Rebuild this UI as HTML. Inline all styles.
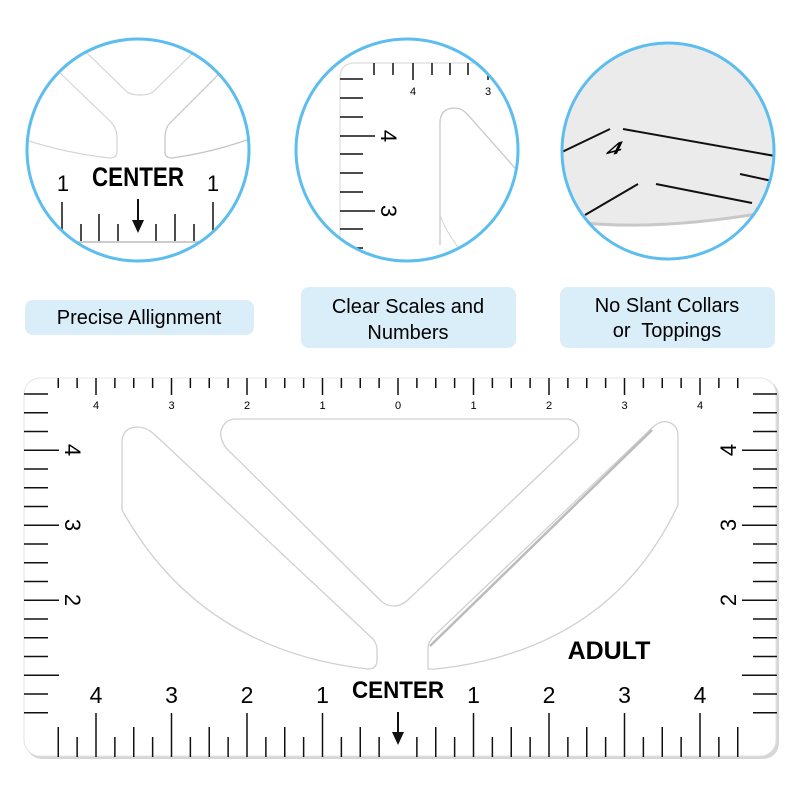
<!DOCTYPE html>
<html><head><meta charset="utf-8">
<style>
html,body{margin:0;padding:0;background:#fff;}
svg{display:block}
text{font-family:"Liberation Sans",sans-serif;}
</style></head>
<body>
<svg id="s" width="800" height="800" viewBox="0 0 800 800" xmlns="http://www.w3.org/2000/svg">
<defs>
<clipPath id="c1"><ellipse cx="138" cy="150" rx="111" ry="111"/></clipPath>
<clipPath id="c2"><ellipse cx="407" cy="150" rx="111" ry="111"/></clipPath>
<clipPath id="c3"><ellipse cx="668" cy="151" rx="106" ry="108"/></clipPath>
</defs>

<!-- Circle 1 -->
<g clip-path="url(#c1)">
<rect x="0" y="0" width="300" height="300" fill="#fff"/>
<g fill="none" stroke="#d4d4d4" stroke-width="1.2">
<path d="M60 73 L110 121 Q117 128 117 138 L117 152 Q117 158 109 158 Q60 152 20 138"/>
<path d="M87 53 L126 91 Q130 95 140 95 Q150 95 154 91 L193 53"/>
<path d="M218 75 L170 123 Q165 128 165 138 L165 152 Q165 158 172 158 Q215 152 255 137" stroke="#c4c4c4"/>
</g>
<text x="138" y="186" font-size="27" font-weight="bold" text-anchor="middle" textLength="92" lengthAdjust="spacingAndGlyphs">CENTER</text>
<text x="63" y="191" font-size="22" text-anchor="middle">1</text>
<text x="213" y="191" font-size="22" text-anchor="middle">1</text>
<g stroke="#111" stroke-width="1.5">
<line x1="62" y1="202" x2="62" y2="241"/><line x1="213" y1="202" x2="213" y2="241"/>
<line x1="81" y1="224" x2="81" y2="241"/><line x1="99" y1="214" x2="99" y2="241"/>
<line x1="118" y1="224" x2="118" y2="241"/><line x1="156" y1="224" x2="156" y2="241"/>
<line x1="175" y1="214" x2="175" y2="241"/><line x1="194" y1="224" x2="194" y2="241"/>
<line x1="138" y1="199" x2="138" y2="222" stroke-width="2"/>
</g>
<path d="M132 220 L144 220 L138 233 Z" fill="#111"/>
<line x1="20" y1="242" x2="260" y2="242" stroke="#ccc" stroke-width="2"/>
</g>
<ellipse cx="138" cy="150" rx="111" ry="111" fill="none" stroke="#5cbdee" stroke-width="3"/>

<!-- Circle 2 -->
<g clip-path="url(#c2)">
<rect x="280" y="0" width="260" height="300" fill="#fff"/>
<path d="M340 270 L340 78 Q340 63 355 63 L530 63" fill="none" stroke="#ddd" stroke-width="1.2"/>
<g stroke="#111" stroke-width="1.5">
<line x1="374" y1="63" x2="374" y2="75"/><line x1="393" y1="63" x2="393" y2="75"/>
<line x1="432" y1="63" x2="432" y2="75"/><line x1="450" y1="63" x2="450" y2="75"/>
<line x1="468" y1="63" x2="468" y2="75"/>
<line x1="413" y1="63" x2="413" y2="80"/><line x1="488" y1="63" x2="488" y2="80"/>
<line x1="340" y1="79" x2="363" y2="79"/><line x1="340" y1="98" x2="363" y2="98"/>
<line x1="340" y1="117" x2="363" y2="117"/><line x1="340" y1="154" x2="363" y2="154"/>
<line x1="340" y1="173" x2="363" y2="173"/><line x1="340" y1="192" x2="363" y2="192"/>
<line x1="340" y1="229" x2="363" y2="229"/><line x1="340" y1="248" x2="363" y2="248"/>
<line x1="340" y1="136" x2="375" y2="136"/><line x1="340" y1="211" x2="375" y2="211"/>
</g>
<text x="413" y="95" font-size="11" text-anchor="middle">4</text>
<text x="488" y="95" font-size="11" text-anchor="middle">3</text>
<text font-size="22" transform="translate(381,136) rotate(90)" text-anchor="middle">4</text>
<text font-size="22" transform="translate(381,211) rotate(90)" text-anchor="middle">3</text>
<path d="M440 245 L440 123 Q440 108 455 108 Q462 108 468 115 L530 185" fill="none" stroke="#c8c8c8" stroke-width="1.3"/>
<path d="M440 215 Q445 230 460 250" fill="none" stroke="#d4d4d4" stroke-width="1"/>
</g>
<ellipse cx="407" cy="150" rx="111" ry="111" fill="none" stroke="#5cbdee" stroke-width="3"/>

<!-- Circle 3 -->
<g clip-path="url(#c3)">
<rect x="550" y="30" width="240" height="250" fill="#ebebeb"/>
<path d="M570 222 Q660 232 780 210 L780 280 L560 280 Z" fill="#fff"/>
<path d="M575 222 Q660 232 780 210" fill="none" stroke="#c8c8c8" stroke-width="3"/>
<g stroke="#111" stroke-width="2">
<line x1="562" y1="152" x2="610" y2="129"/>
<line x1="623" y1="129" x2="775" y2="156"/>
<line x1="585" y1="215" x2="638" y2="184"/>
<line x1="656" y1="184" x2="752" y2="203"/>
<line x1="740" y1="174" x2="772" y2="181"/>
</g>
<text font-size="22" font-weight="bold" transform="translate(612,155) rotate(-15) skewX(-40) scale(1.3,0.7)" text-anchor="middle">4</text>
</g>
<ellipse cx="668" cy="151" rx="106" ry="108" fill="none" stroke="#5cbdee" stroke-width="3"/>

<!-- Labels -->
<rect x="25" y="300" width="229" height="35" rx="8" fill="#daeefa"/>
<text x="139" y="324" font-size="20" text-anchor="middle">Precise Allignment</text>
<rect x="301" y="287" width="215" height="61" rx="8" fill="#daeefa"/>
<text x="408" y="313" font-size="20" text-anchor="middle">Clear Scales and</text>
<text x="408" y="339" font-size="20" text-anchor="middle">Numbers</text>
<rect x="560" y="287" width="215" height="61" rx="8" fill="#daeefa"/>
<text x="667" y="312" font-size="20" text-anchor="middle">No Slant Collars</text>
<text x="667" y="337" font-size="20" text-anchor="middle">or&#160; Toppings</text>

<!-- Ruler -->
<rect x="26" y="380" width="753" height="379" rx="16" fill="#bbb" opacity="0.6"/>
<rect x="24" y="378" width="752" height="378" rx="16" fill="#fff" stroke="#e4e4e4" stroke-width="1"/>
<g fill="none" stroke="#d0d0d0" stroke-width="1.3">
<path d="M122 510 L122 443 Q122 427 138 427 Q146 427 154 434 L372 638 Q377 643 377 650 L377 660 Q377 669 368 669 Q200 650 122 510 Z"/>
<path d="M236 419 L568 419 Q582 422 578 438 L410 598 Q402 606 394 606 Q386 606 380 600 L226 448 Q218 436 222 428 Q226 419 236 419 Z"/>
<path d="M428 669 L428 648 Q428 642 434 636 L652 428 Q660 420 668 422 Q678 425 678 436 L678 505 Q610 650 436 669 Z"/>
</g>
<path d="M430 646 L652 430" stroke="#bbb" stroke-width="2.5" fill="none"/>
<g id="rt" stroke="#111" stroke-width="1.5"></g>
<g id="rl"></g>
<text x="609" y="659" font-size="25" font-weight="bold" text-anchor="middle">ADULT</text>
<text x="398" y="698" font-size="24" font-weight="bold" text-anchor="middle" textLength="92" lengthAdjust="spacingAndGlyphs">CENTER</text>
<line x1="398" y1="712" x2="398" y2="735" stroke="#111" stroke-width="2"/>
<path d="M392 732 L404 732 L398 745 Z" fill="#111"/>
</svg>
<script>
(function(){
var NS="http://www.w3.org/2000/svg";
function L(g,x1,y1,x2,y2){var e=document.createElementNS(NS,"line");e.setAttribute("x1",x1);e.setAttribute("y1",y1);e.setAttribute("x2",x2);e.setAttribute("y2",y2);g.appendChild(e);}
function T(g,x,y,s,fs,tr){var e=document.createElementNS(NS,"text");e.textContent=s;e.setAttribute("font-size",fs);e.setAttribute("text-anchor","middle");if(tr){e.setAttribute("transform",tr);}else{e.setAttribute("x",x);e.setAttribute("y",y);}g.appendChild(e);return e;}
var rt=document.getElementById("rt"),rl=document.getElementById("rl");
var sp=75.5/4;
for(var i=-18;i<=18;i++){
 var x=398+i*sp; if(x<55||x>745)continue;
 var m=((i%4)+4)%4;
 L(rt,x,378,x,m==0?395:388);
 if(i!=0){L(rt,x,757,x,m==0?713:(m==2?727:737));}
}
for(var k=-4;k<=4;k++){
 var xx=398+k*75.5;
 T(rl,xx,409,String(Math.abs(k)),11);
 if(k!=0)T(rl,xx,703,String(Math.abs(k)),23);
}
var sy=18.75;
for(var j=0;j<=17;j++){
 var y=394+j*sy; var maj=((j-3)%4==0);
 L(rt,24,y,maj?59:48,y);
 L(rt,777,y,maj?742:753,y);
}
[[450,"4"],[525,"3"],[600,"2"]].forEach(function(a){
 T(rl,0,0,a[1],22,"translate(65,"+a[0]+") rotate(90)");
 T(rl,0,0,a[1],22,"translate(736,"+a[0]+") rotate(-90)");
});
})();
</script>
</body></html>
